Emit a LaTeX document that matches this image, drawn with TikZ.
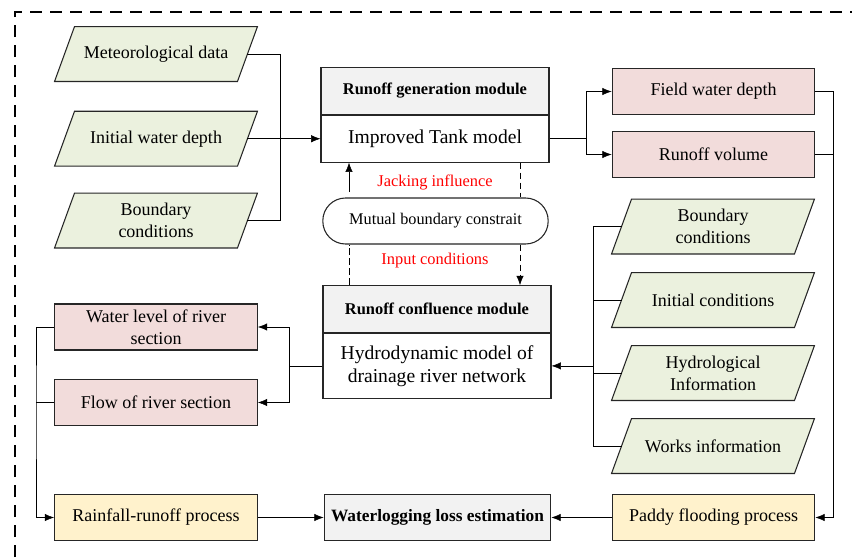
\documentclass[tikz,border=0pt]{standalone}
\usepackage{fontspec}
\setmainfont{Liberation Serif}
\usetikzlibrary{arrows.meta}
\definecolor{datagreen}{HTML}{EBF1DE}
\definecolor{outpink}{HTML}{F2DCDB}
\definecolor{procyellow}{HTML}{FFF2CC}
\definecolor{headgray}{HTML}{F2F2F2}
\pgfdeclarelayer{bg}
\pgfsetlayers{bg,main}
\begin{document}
\begin{tikzpicture}[x=0.75pt,y=-0.75pt,>={Latex[length=7pt,width=5.5pt]},line width=0.7pt,
	every node/.style={font=\fontsize{13.5}{16.5}\selectfont,align=center,inner sep=1pt},
	data/.style={minimum width=136.5pt,minimum height=40.5pt},
	dataframe/.style={draw=black!85,line width=0.8pt,fill=datagreen},
	result/.style={draw=black!85,line width=0.8pt,fill=outpink,minimum width=152pt,minimum height=34.5pt},
	process/.style={draw=black!85,line width=0.8pt,fill=procyellow,minimum width=152pt,minimum height=35pt},
	head/.style={draw=black!85,line width=0.8pt,fill=headgray,minimum width=171pt,minimum height=35pt,font=\fontsize{12.3}{14}\selectfont\bfseries},
	modbody/.style={draw=black!85,line width=0.8pt,fill=white,minimum width=171pt,font=\fontsize{14.7}{17.5}\selectfont,anchor=north}]
	\useasboundingbox (0,0) rectangle (852,557);
	\draw[line width=1.5pt,dash pattern=on 9pt off 6pt] (15,557)--(15,12)--(852,12);
	\node[head] (genh) at (435,91) {Runoff generation module};
	\node[modbody,minimum height=35pt] (gen) at (genh.south) {Improved Tank model};
	\node[data] (met) at (156,54) {Meteorological data};
	\node[data] (init) at (gen.west -| 156,0) {Initial water depth};
	\node[data] (bnda) at (156,220.5) {Boundary\\conditions};
	\node[result] (fwd) at (713.5,91.5) {Field water depth};
	\node[result] (rv) at (713.5,154.5) {Runoff volume};
	\node[draw=black!85,line width=0.8pt,fill=white,rounded corners=17pt,minimum width=169pt,minimum height=34.5pt,font=\fontsize{12.2}{14}\selectfont] (mbc) at (435.5,221) {Mutual boundary constrait};
	\node[text=red,font=\fontsize{12.3}{14}\selectfont] (jack) at (435,182) {Jacking influence};
	\node[text=red,font=\fontsize{12.3}{14}\selectfont] (inputc) at (435,261) {Input conditions};
	\node[data] (bndb) at (713,226.5) {Boundary\\conditions};
	\node[data] (ic) at (713,300) {Initial conditions};
	\node[data] (hyd) at (713,373) {Hydrological\\Information};
	\node[data] (works) at (713,446) {Works information};
	\node[head] (confh) at (437,309) {Runoff confluence module};
	\node[modbody,minimum height=48.75pt] (conf) at (confh.south) {Hydrodynamic model of\\drainage river network};
	\node[result] (wl) at (156,327) {Water level of river\\section};
	\node[result] (flow) at (156,402.5) {Flow of river section};
	\node[process] (rain) at (156,517.5) {Rainfall-runoff process};
	\node[head,minimum width=170pt,font=\fontsize{13}{15}\selectfont\bfseries] (wle) at (437.5,517.5) {Waterlogging loss estimation};
	\node[process] (paddy) at (713.5,517.5) {Paddy flooding process};
	\begin{pgfonlayer}{bg}
		\foreach \n in {met,init,bnda,bndb,ic,hyd,works}
			\draw[dataframe] ([xshift=-7.5pt]\n.south west) -- ([xshift=7.5pt]\n.north west) -- ([xshift=7.5pt]\n.north east) -- ([xshift=-7.5pt]\n.south east) -- cycle;
	\end{pgfonlayer}
	\coordinate (lbus) at (280,0);
	\coordinate (rsplit) at (586,0);
	\coordinate (rbus) at (833,300);
	\coordinate (ibus) at (593,446);
	\coordinate (cbus) at (289,0);
	\coordinate (obus) at (36,402.5);
	\coordinate (upx) at (349,0);
	\coordinate (downx) at (520,0);
	\draw (met.east) -| (lbus |- bnda.east) -- (bnda.east);
	\draw[->] (init.east) -- (gen.west);
	\draw (gen.east) -- (gen.east -| rsplit);
	\draw[->] (gen.east -| rsplit) |- (fwd.west);
	\draw[->] (gen.east -| rsplit) |- (rv.west);
	\draw (fwd.east) -| (rbus);
	\draw[->] (rv.east) -| (rbus) |- (paddy.east);
	\draw (bndb.west) -| (ibus);
	\draw (ic.west) -| (ibus);
	\draw (hyd.west) -| (ibus);
	\draw (works.west) -- (ibus);
	\draw[->] (conf.east -| ibus) -- (conf.east);
	\draw (conf.west) -- (conf.west -| cbus);
	\draw[->] (conf.west -| cbus) |- (wl.east);
	\draw[->] (conf.west -| cbus) |- (flow.east);
	\draw (flow.west) -- (obus);
	\draw[->] (wl.west) -| (obus) |- (rain.west);
	\draw[->] (rain.east) -- (wle.west);
	\draw[->] (paddy.west) -- (wle.east);
	\draw[dash pattern=on 5pt off 2.5pt] (upx |- confh.north) -- (upx |- mbc.south);
	\draw[->,shorten <=4pt] (upx |- mbc.north) -- (upx |- gen.south);
	\draw[dash pattern=on 5pt off 2.5pt] (downx |- gen.south) -- (downx |- mbc.north);
	\draw[->,dash pattern=on 5pt off 2.5pt] (downx |- mbc.south) -- (downx |- confh.north);
\end{tikzpicture}
\end{document}
